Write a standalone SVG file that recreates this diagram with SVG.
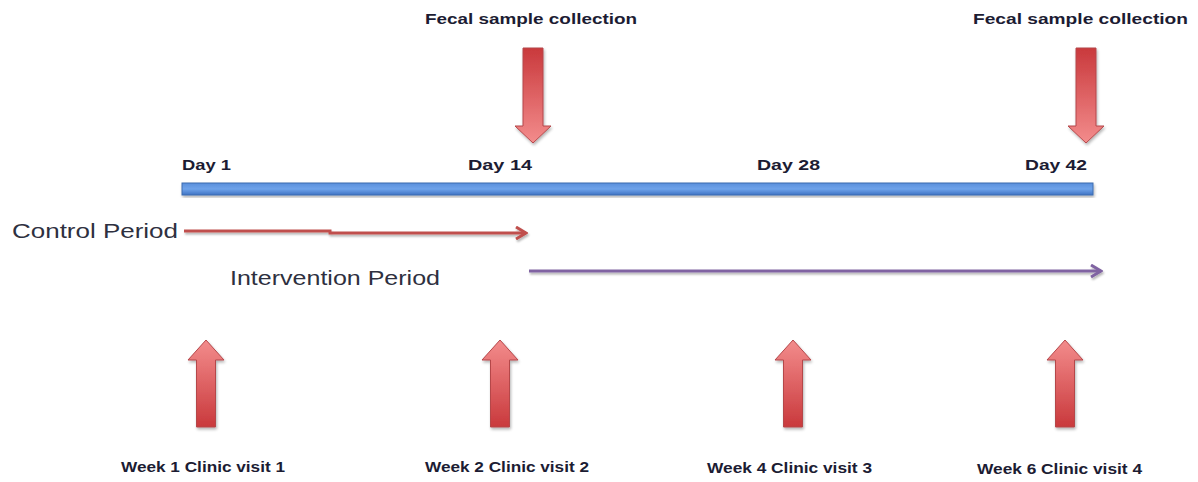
<svg xmlns="http://www.w3.org/2000/svg" width="1198" height="482" viewBox="0 0 1198 482">
<style>
.lbl{font-family:"Liberation Sans",Arial,sans-serif;font-weight:bold;font-size:15px;fill:#1c1c33}
.per{font-family:"Liberation Sans",Arial,sans-serif;font-size:20px;fill:#2e3040}
.arr{stroke:#b5474a;stroke-width:1}
</style>
<defs>
<linearGradient id="gDown" x1="0" y1="0" x2="0" y2="1">
<stop offset="0" stop-color="#c9393c"/>
<stop offset="1" stop-color="#f38c8c"/>
</linearGradient>
<linearGradient id="gUp" x1="0" y1="0" x2="0" y2="1">
<stop offset="0" stop-color="#f38c8c"/>
<stop offset="1" stop-color="#c9393c"/>
</linearGradient>
<linearGradient id="gBar" x1="0" y1="0" x2="0" y2="1">
<stop offset="0" stop-color="#5a8fdc"/>
<stop offset="0.5" stop-color="#6fa3ea"/>
<stop offset="1" stop-color="#3f74c4"/>
</linearGradient>
<filter id="sh" x="-20%" y="-20%" width="140%" height="140%">
<feGaussianBlur in="SourceAlpha" stdDeviation="1.5"/>
<feOffset dx="1" dy="2" result="b"/>
<feComponentTransfer><feFuncA type="linear" slope="0.3"/></feComponentTransfer>
<feMerge><feMergeNode/><feMergeNode in="SourceGraphic"/></feMerge>
</filter>
<filter id="shL" filterUnits="userSpaceOnUse" x="0" y="0" width="1198" height="482">
<feGaussianBlur in="SourceAlpha" stdDeviation="1.2"/>
<feOffset dx="1" dy="2" result="b"/>
<feComponentTransfer><feFuncA type="linear" slope="0.3"/></feComponentTransfer>
<feMerge><feMergeNode/><feMergeNode in="SourceGraphic"/></feMerge>
</filter>
<marker id="mRed" markerWidth="14" markerHeight="14" refX="12" refY="7" orient="auto" markerUnits="userSpaceOnUse">
<path d="M2,1 L12,7 L2,13" fill="none" stroke="#c0504d" stroke-width="3"/>
</marker>
<marker id="mPur" markerWidth="14" markerHeight="14" refX="12" refY="7" orient="auto" markerUnits="userSpaceOnUse">
<path d="M2,1 L12,7 L2,13" fill="none" stroke="#8064a2" stroke-width="3"/>
</marker>
<path id="downArrow" d="M-10,0 H10 V78 H18 L0,95 L-18,78 H-10 Z"/>
<path id="upArrow" d="M0,0 L18,20 H9.5 V87 H-9.5 V20 H-18 Z"/>
</defs>

<g id="timeline">
<rect x="182" y="183" width="911" height="12" fill="url(#gBar)" stroke="#3c6cb0" stroke-width="1" filter="url(#sh)"/>
</g>

<g id="day-labels">
<text class="lbl" x="182" y="170" textLength="49" lengthAdjust="spacingAndGlyphs">Day 1</text>
<text class="lbl" x="468" y="170" textLength="64" lengthAdjust="spacingAndGlyphs">Day 14</text>
<text class="lbl" x="757" y="170" textLength="63" lengthAdjust="spacingAndGlyphs">Day 28</text>
<text class="lbl" x="1025" y="170" textLength="62" lengthAdjust="spacingAndGlyphs">Day 42</text>
</g>

<g id="fecal-1">
<text class="lbl" x="425" y="24" textLength="212" lengthAdjust="spacingAndGlyphs">Fecal sample collection</text>
<use href="#downArrow" x="533" y="48" fill="url(#gDown)" class="arr" filter="url(#sh)"/>
</g>
<g id="fecal-2">
<text class="lbl" x="973" y="24" textLength="215" lengthAdjust="spacingAndGlyphs">Fecal sample collection</text>
<use href="#downArrow" x="1086" y="48" fill="url(#gDown)" class="arr" filter="url(#sh)"/>
</g>

<g id="control-period">
<text class="per" x="12" y="238" textLength="166" lengthAdjust="spacingAndGlyphs">Control Period</text>
</g>
<g id="intervention-period">
<text class="per" x="230" y="285" textLength="210" lengthAdjust="spacingAndGlyphs">Intervention Period</text>
</g>

<g id="connectors" filter="url(#shL)">
<path d="M184,231 H330 V233 H526" fill="none" stroke="#c0504d" stroke-width="3" marker-end="url(#mRed)"/>
<path d="M529,271 H1101" fill="none" stroke="#8064a2" stroke-width="3" marker-end="url(#mPur)"/>
</g>

<g id="visit-1">
<use href="#upArrow" x="206" y="340" fill="url(#gUp)" class="arr" filter="url(#sh)"/>
<text class="lbl" x="121" y="472" textLength="164" lengthAdjust="spacingAndGlyphs">Week 1 Clinic visit 1</text>
</g>
<g id="visit-2">
<use href="#upArrow" x="500" y="340" fill="url(#gUp)" class="arr" filter="url(#sh)"/>
<text class="lbl" x="425" y="472" textLength="164" lengthAdjust="spacingAndGlyphs">Week 2 Clinic visit 2</text>
</g>
<g id="visit-3">
<use href="#upArrow" x="793" y="340" fill="url(#gUp)" class="arr" filter="url(#sh)"/>
<text class="lbl" x="707" y="473" textLength="165" lengthAdjust="spacingAndGlyphs">Week 4 Clinic visit 3</text>
</g>
<g id="visit-4">
<use href="#upArrow" x="1065" y="340" fill="url(#gUp)" class="arr" filter="url(#sh)"/>
<text class="lbl" x="977" y="474" textLength="165" lengthAdjust="spacingAndGlyphs">Week 6 Clinic visit 4</text>
</g>
</svg>
